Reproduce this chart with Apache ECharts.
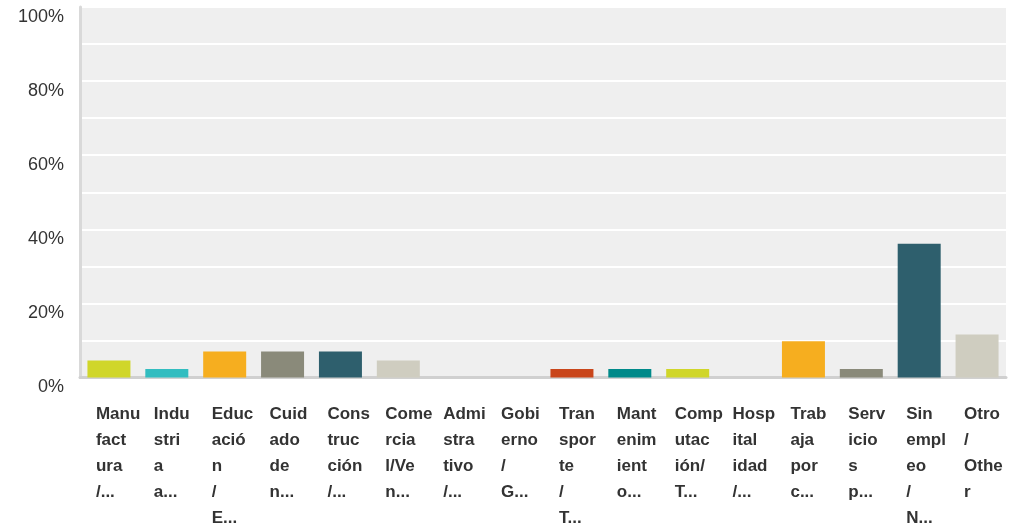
<!DOCTYPE html>
<html>
<head>
<meta charset="utf-8">
<script src="https://cdn.jsdelivr.net/npm/echarts@6/dist/echarts.min.js"></script>
<style>
  html, body { margin: 0; padding: 0; background: #fff; }
  #chart { width: 1011px; height: 527px; }
</style>
</head>
<body>
<div id="chart"></div>
<script>
// category labels as shown (already wrapped / cut)
const categories = [
  "Manu\nfact\nura\n/...",
  "Indu\nstri\na\na...",
  "Educ\nació\nn\n/\nE...",
  "Cuid\nado\nde\nn...",
  "Cons\ntruc\nción\n/...",
  "Come\nrcia\nl/Ve\nn...",
  "Admi\nstra\ntivo\n/...",
  "Gobi\nerno\n/\nG...",
  "Tran\nspor\nte\n/\nT...",
  "Mant\nenim\nient\no...",
  "Comp\nutac\nión/\nT...",
  "Hosp\nital\nidad\n/...",
  "Trab\naja\npor\nc...",
  "Serv\nicio\ns\np...",
  "Sin\nempl\neo\n/\nN...",
  "Otro\n/\nOthe\nr"
];
const values = [4.6, 2.3, 7.0, 7.0, 7.0, 4.6, 0, 0, 2.3, 2.3, 2.3, 0, 9.8, 2.3, 36.1, 11.6];
const barColors = [
  "#d0d62a", "#32bdc0", "#f6ae1f", "#8a8a7a", "#2e5f6d",
  "#cfcdc0", "#5b9bd5", "#a5a5a5", "#c9461b", "#008a8a",
  "#d0d62a", "#32bdc0", "#f6ae1f", "#8a8a7a", "#2e5f6d", "#cfcdc0"
];
const yTicks = [0, 20, 40, 60, 80, 100];

const chart = echarts.init(document.getElementById("chart"));

chart.setOption({
  animation: false,
  grid: {
    left: 80,
    right: 5,
    top: 7,
    bottom: 149,
    show: true,
    backgroundColor: "#efefef",
    borderWidth: 0,
  },
  xAxis: {
    type: "category",
    data: categories,
    axisTick: { show: false },
    axisLine: { show: true, lineStyle: { color: "#d0d0d0", width: 3 } },
    axisLabel: {
      interval: 0,
      margin: 24,
      formatter: (v) => "{a|" + v + "}",
      rich: {
        a: {
          width: 26,
          align: "left",
          fontFamily: "Liberation Sans, Arial, sans-serif",
          fontWeight: "bold",
          fontSize: 17,
          lineHeight: 26,
          color: "#333",
        },
      },
    },
  },
  yAxis: {
    type: "value",
    min: 0,
    max: 100,
    interval: 20,
    axisLine: { show: true, lineStyle: { color: "#d9d9d9", width: 3 } },
    axisTick: { show: false },
    axisLabel: {
      formatter: (v) => (yTicks.includes(v) ? v + "%" : ""),
      fontFamily: "Liberation Sans, Arial, sans-serif",
      fontSize: 18,
      color: "#333",
      margin: 16,
      verticalAlign: "top",
      lineHeight: 20,
    },
    splitLine: { show: true, lineStyle: { color: "#ffffff", width: 2 } },
    minorTick: { show: false, splitNumber: 2 },
    minorSplitLine: { show: true, lineStyle: { color: "#ffffff", width: 2 } },
  },
  series: [
    {
      type: "bar",
      barWidth: 43,
      data: values.map((v, i) => ({
        value: v,
        itemStyle: { color: barColors[i] },
      })),
    },
  ],
});
</script>
</body>
</html>
